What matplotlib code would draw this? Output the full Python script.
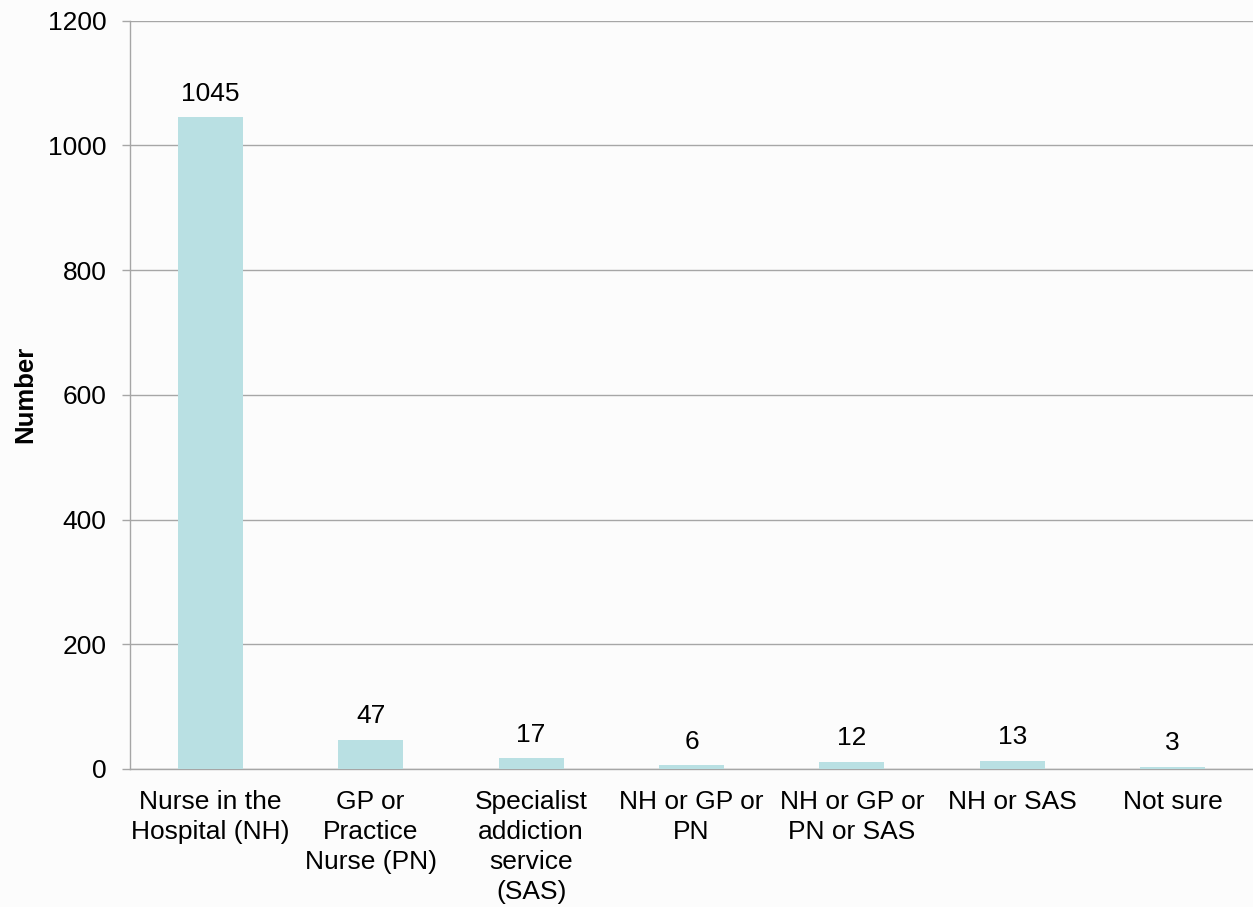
import matplotlib
matplotlib.use("Agg")
import matplotlib.pyplot as plt

categories = [
    "Nurse in the\nHospital (NH)",
    "GP or\nPractice\nNurse (PN)",
    "Specialist\naddiction\nservice\n(SAS)",
    "NH or GP or\nPN",
    "NH or GP or\nPN or SAS",
    "NH or SAS",
    "Not sure",
]
counts = [1045, 47, 17, 6, 12, 13, 3]
y_ticks = [0, 200, 400, 600, 800, 1000, 1200]

plt.rcParams["font.family"] = ["Liberation Sans", "DejaVu Sans"]

bg = "#fcfcfc"
grid_col = "#a6a6a6"
bar_col = "#b9e0e3"
fs = 19

fig = plt.figure(figsize=(12.53, 9.07), dpi=100, facecolor=bg)
ax = fig.add_axes([130 / 1253, 1 - 769 / 907, 1 - 130 / 1253, (769 - 20.5) / 907])
ax.set_facecolor(bg)

x = list(range(len(categories)))
ax.bar(x, counts, width=0.405, color=bar_col, zorder=3)

for xi, v in zip(x, counts):
    ax.annotate(str(v), (xi, v), xytext=(0, 12), textcoords="offset points",
                ha="center", va="baseline", fontsize=fs, color="black")

ax.set_xlim(-0.5, len(categories) - 0.5)
ax.set_ylim(0, 1200)
ax.set_yticks(y_ticks)
ax.set_yticklabels([str(t) for t in y_ticks])
ax.set_xticks(x)
ax.set_xticklabels(categories, linespacing=1.31)

ax.yaxis.grid(True, color=grid_col, linewidth=1.0, zorder=0)
ax.xaxis.grid(False)

for s in ["top", "right"]:
    ax.spines[s].set_visible(False)
ax.spines["left"].set_color(grid_col)
ax.spines["bottom"].set_color(grid_col)
ax.spines["left"].set_linewidth(1.0)
ax.spines["bottom"].set_linewidth(1.0)

ax.tick_params(axis="y", length=6, width=1.0, color=grid_col, pad=11, labelsize=fs)
ax.tick_params(axis="x", length=0, pad=15, labelsize=fs)

ax.set_ylabel("Number", fontsize=18.5, fontweight="bold")
ax.yaxis.set_label_coords(-93 / 1123, 0.5)

fig.savefig("out.png", dpi=100, facecolor=bg)
